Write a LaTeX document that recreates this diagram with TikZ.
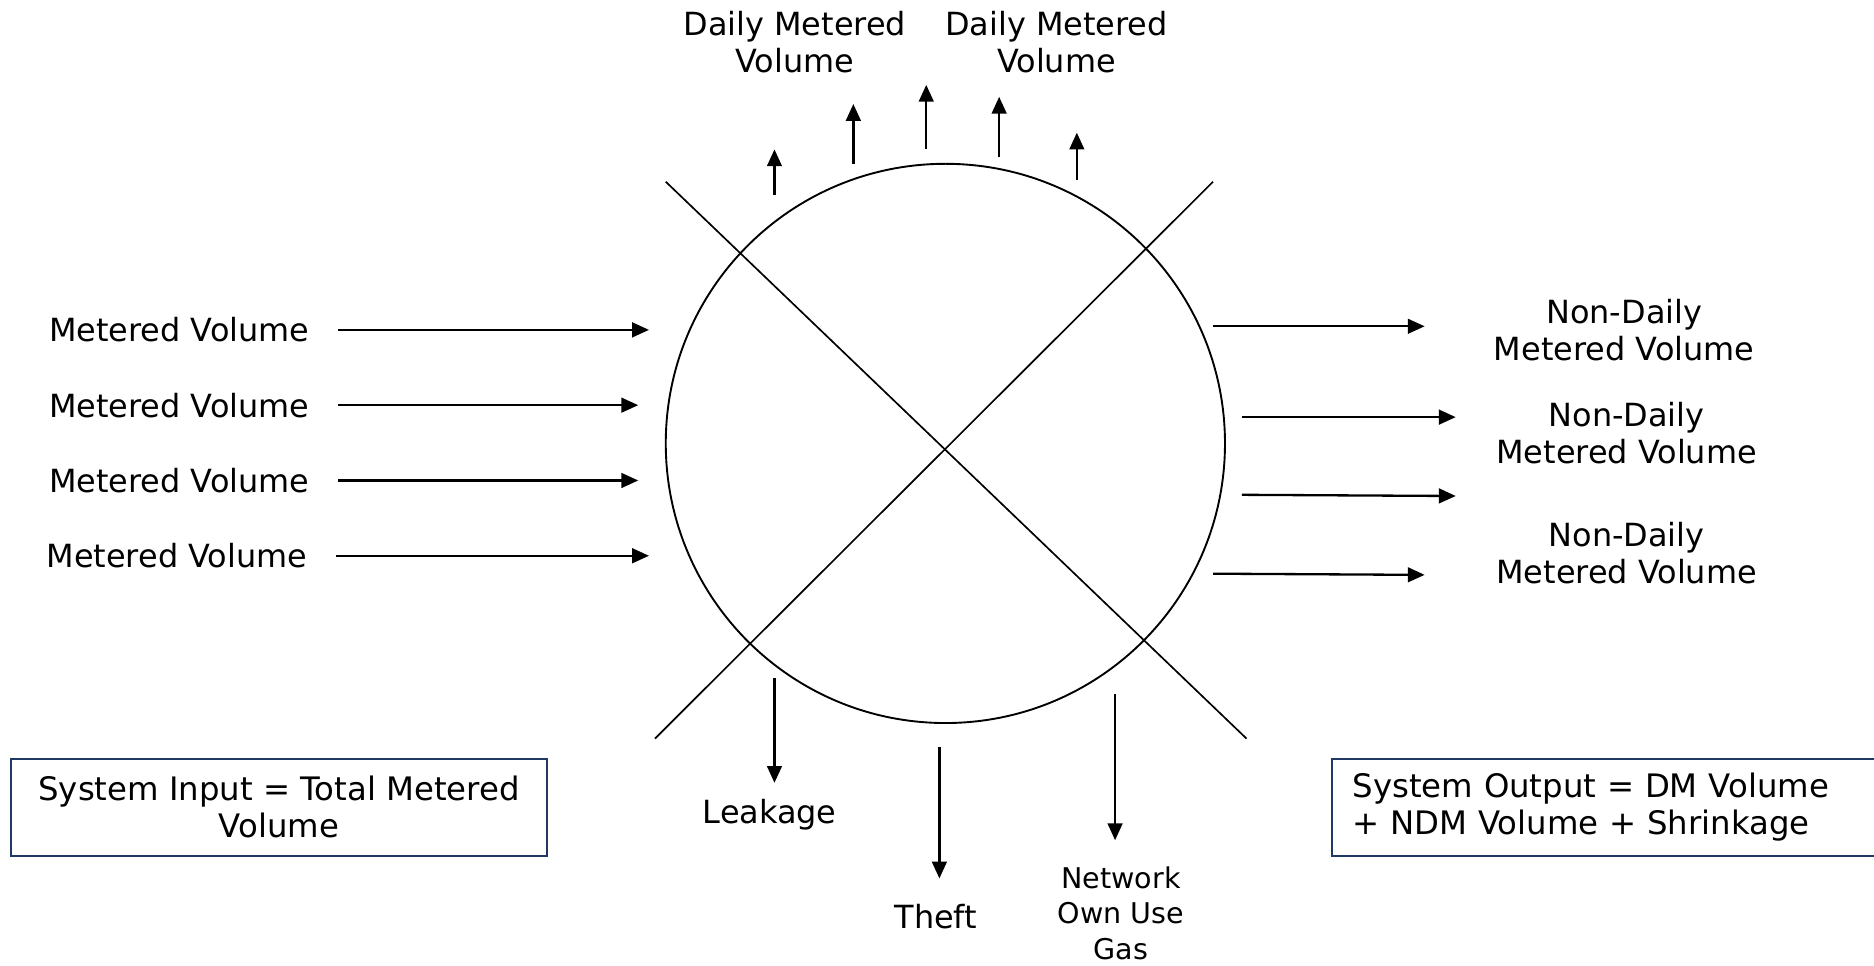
\documentclass[tikz,border=0pt]{standalone}
\usepackage{fontspec}
\setmainfont{DejaVu Sans}
\usepackage{tikz}
\usetikzlibrary{shapes,arrows.meta}

\definecolor{boxblue}{RGB}{31,56,100}
\tikzset{
    lbl/.style={inner sep=0pt,align=center,font=\fontsize{15.2}{17.6}\selectfont},
    smalllbl/.style={inner sep=0pt,align=center,font=\fontsize{13.6}{16.8}\selectfont},
    flow/.style={line width=1.1pt,-{Triangle[width=7pt,length=8pt]}},
    sumbox/.style={draw=boxblue,line width=0.9pt,inner ysep=0pt,minimum height=1.62cm,font=\fontsize{15.4}{17.6}\selectfont}
}

\begin{document}
\begin{tikzpicture}[x=0.02cm,y=-0.02cm]
    \useasboundingbox (0, 0) rectangle (1568, 807.5);

    % the network
    \node [circle,draw,line width=0.9pt,minimum size=9.36cm,inner sep=0pt] (tank) at (791, 371) {};
    \draw [line width=0.8pt] (557, 152) -- (1043, 618);
    \draw [line width=0.8pt] (1015, 152) -- (548, 618);

    % inputs
    \node [lbl] (mv1) at (150, 276) {Metered Volume};
    \node [lbl] (mv2) at (150, 339) {Metered Volume};
    \node [lbl] (mv3) at (150, 402) {Metered Volume};
    \node [lbl] (mv4) at (148, 465) {Metered Volume};
    \coordinate (in1) at (543, 276);
    \coordinate (in2) at (534, 339);
    \coordinate (in3) at (534, 402);
    \coordinate (in4) at (543, 465);
    \draw [flow] ([xshift=0.47cm]mv1.east) -- (in1);
    \draw [flow] ([xshift=0.47cm]mv2.east) -- (in2);
    \draw [flow] ([xshift=0.47cm]mv3.east) -- (in3);
    \draw [flow] ([xshift=0.47cm]mv4.east) -- (in4);

    % daily metered
    \node [lbl] (dm1) at (665, 35) {Daily Metered\\Volume};
    \node [lbl] (dm2) at (884, 35) {Daily Metered\\Volume};
    \coordinate (up1a) at (648, 163);
    \coordinate (up1b) at (648, 125);
    \coordinate (up2a) at (714, 137);
    \coordinate (up2b) at (714, 87);
    \coordinate (up3a) at (775, 125);
    \coordinate (up3b) at (775, 71);
    \coordinate (up4a) at (836, 131);
    \coordinate (up4b) at (836, 81);
    \coordinate (up5a) at (901, 151);
    \coordinate (up5b) at (901, 111);
    \draw [flow] (up1a) -- (up1b);
    \draw [flow] (up2a) -- (up2b);
    \draw [flow] (up3a) -- (up3b);
    \draw [flow] (up4a) -- (up4b);
    \draw [flow] (up5a) -- (up5b);

    % non-daily metered
    \node [lbl] (ndm1) at (1359, 276) {Non-Daily\\Metered Volume};
    \node [lbl] (ndm2) at (1361, 362) {Non-Daily\\Metered Volume};
    \node [lbl] (ndm3) at (1361, 463) {Non-Daily\\Metered Volume};
    \coordinate (out1a) at (1015, 273);
    \coordinate (out1b) at (1192, 273);
    \coordinate (out2a) at (1039, 349);
    \coordinate (out2b) at (1218, 349);
    \coordinate (out3a) at (1039, 414);
    \coordinate (out3b) at (1218, 415);
    \coordinate (out4a) at (1015, 480);
    \coordinate (out4b) at (1192, 481);
    \draw [flow] (out1a) -- (out1b);
    \draw [flow] (out2a) -- (out2b);
    \draw [flow] (out3a) -- (out3b);
    \draw [flow] (out4a) -- (out4b);

    % shrinkage
    \node [lbl] (leak) at (644, 682) {Leakage};
    \node [lbl] (theft) at (783, 767) {Theft};
    \node [smalllbl] (nug) at (938, 764) {Network\\Own Use\\Gas};
    \coordinate (dn1a) at (648, 567);
    \coordinate (dn1b) at (648, 655);
    \coordinate (dn2a) at (786, 625);
    \coordinate (dn2b) at (786, 735);
    \coordinate (dn3a) at (933, 581);
    \coordinate (dn3b) at (933, 703);
    \draw [flow] (dn1a) -- (dn1b);
    \draw [flow] (dn2a) -- (dn2b);
    \draw [flow] (dn3a) -- (dn3b);

    % totals
    \node [sumbox,align=center,minimum width=8.98cm] (sysin) at (233.5, 675.5) {System Input = Total Metered\\Volume};
    \node [sumbox,anchor=west,align=left,inner xsep=0.34cm,text width=8.62cm] (sysout) at (1114, 675.5) {System Output = DM Volume\\+ NDM Volume + Shrinkage};
\end{tikzpicture}
\end{document}
